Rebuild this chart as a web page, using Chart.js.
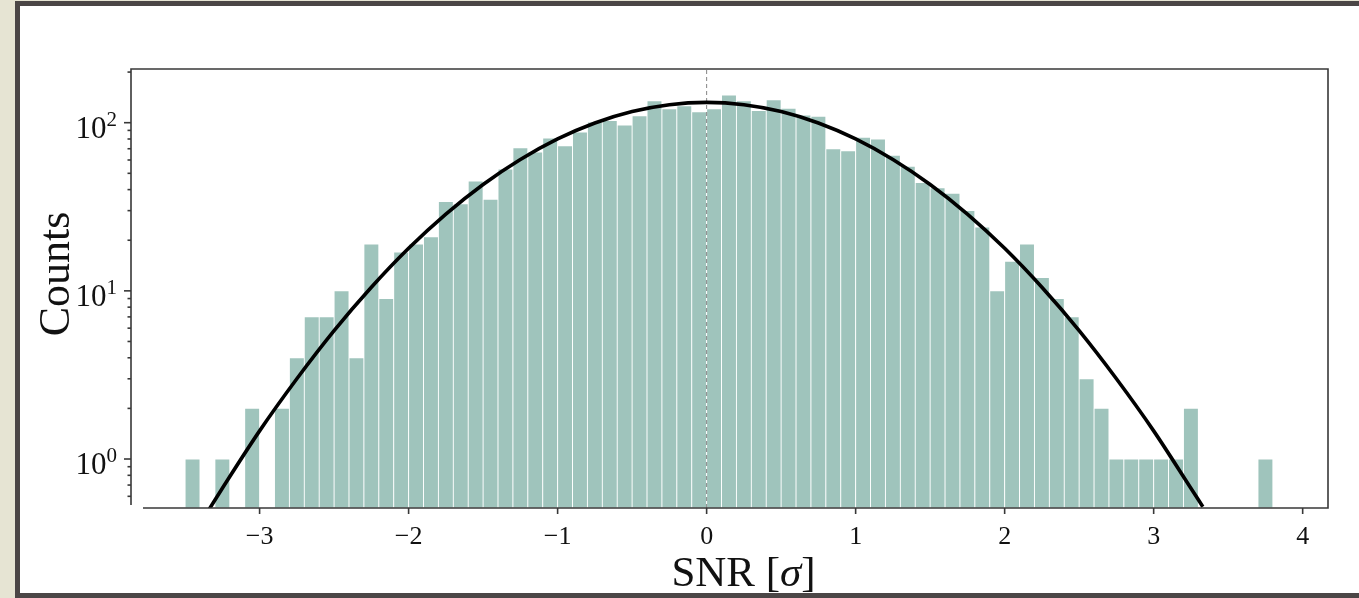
<!DOCTYPE html>
<html>
<head>
<meta charset="utf-8">
<script src="https://cdn.jsdelivr.net/npm/chart.js@4.4.1/dist/chart.umd.min.js"></script>
<style>
  html, body { margin: 0; padding: 0; width: 1359px; height: 598px; overflow: hidden; background: #e6e4d3; }
  #frame { position: absolute; left: 15px; top: 1px; width: 1400px; height: 587px;
           border: 5px solid #4b4646; border-right: none; background: #ffffff; }
  #wrap { position: absolute; left: 0; top: 0; width: 1359px; height: 598px; }
</style>
</head>
<body>
<div id="frame"></div>
<div id="wrap"><canvas id="c" width="1359" height="598"></canvas></div>
<script>
// Histogram bins (width 0.1 sigma), given by their centres
const binCenters = [
  -3.45, -3.35, -3.25, -3.15, -3.05, -2.95, -2.85, -2.75, -2.65, -2.55,
  -2.45, -2.35, -2.25, -2.15, -2.05, -1.95, -1.85, -1.75, -1.65, -1.55,
  -1.45, -1.35, -1.25, -1.15, -1.05, -0.95, -0.85, -0.75, -0.65, -0.55,
  -0.45, -0.35, -0.25, -0.15, -0.05, 0.05, 0.15, 0.25, 0.35, 0.45,
  0.55, 0.65, 0.75, 0.85, 0.95, 1.05, 1.15, 1.25, 1.35, 1.45,
  1.55, 1.65, 1.75, 1.85, 1.95, 2.05, 2.15, 2.25, 2.35, 2.45,
  2.55, 2.65, 2.75, 2.85, 2.95, 3.05, 3.15, 3.25, 3.35, 3.45,
  3.55, 3.65, 3.75
];

// Number of pixels in each SNR bin
const binCounts = [
  1, 0, 1, 0, 2, 0, 2, 4, 7, 7,
  10, 4, 19, 9, 17, 19, 21, 34, 33, 45,
  35, 53, 71, 67, 81, 73, 88, 101, 103, 97,
  110, 135, 121, 126, 116, 121, 146, 135, 118, 137,
  122, 111, 109, 70, 68, 82, 80, 64, 55, 44,
  41, 38, 30, 24, 10, 15, 19, 12, 9, 7,
  3, 2, 1, 1, 1, 1, 1, 2, 0, 0,
  0, 0, 1
];

// Fitted normal curve, sampled along SNR
const fitSnr = [
  -3.34, -3.25, -3.0, -2.75, -2.5, -2.25, -2.0, -1.75, -1.5, -1.25,
  -1.0, -0.75, -0.5, -0.25, 0, 0.25, 0.5, 0.75, 1.0, 1.25,
  1.5, 1.75, 2.0, 2.25, 2.5, 2.75, 3.0, 3.25, 3.33
];
const fitCounts = [
  0.50, 0.67, 1.47, 3.0, 5.8, 10.5, 17.9, 28.6, 42.9, 60.4,
  80.1, 99.6, 116.5, 127.9, 132.0, 127.9, 116.5, 99.6, 80.1, 60.4,
  42.9, 28.6, 17.9, 10.5, 5.8, 3.0, 1.47, 0.67, 0.52
];

// Axis ticks
const xTicks = [-3, -2, -1, 0, 1, 2, 3, 4];
const yMajorTicks = [1, 10, 100];
const yMinorTicks = [0.6, 0.7, 0.8, 0.9, 2, 3, 4, 5, 6, 7, 8, 9,
                     20, 30, 40, 50, 60, 70, 80, 90, 200];
const zeroLineX = [0, 0];

const X_MIN = -3.863, X_MAX = 4.170;
const Y_MIN = 0.5113, Y_MAX = 208.6;

const SERIF = '"Liberation Serif", "Times New Roman", serif';
const AXIS_COLOR = '#383838';

// Draws the frame spines, tick marks, tick labels and axis titles
const axesDecor = {
  id: 'axesDecor',
  afterDraw(chart) {
    const { ctx, chartArea: a, scales: { x, y } } = chart;
    ctx.save();
    ctx.strokeStyle = AXIS_COLOR;
    ctx.lineWidth = 1.6;
    ctx.lineCap = 'butt';

    // spines
    ctx.beginPath();
    ctx.moveTo(a.left, a.bottom - 3); ctx.lineTo(a.left, a.top);
    ctx.lineTo(a.right, a.top); ctx.lineTo(a.right, a.bottom);
    ctx.moveTo(a.left + 12, a.bottom); ctx.lineTo(a.right + 0.8, a.bottom);
    ctx.stroke();

    // x ticks and labels
    ctx.fillStyle = '#111';
    ctx.font = '26px ' + SERIF;
    ctx.textAlign = 'center';
    ctx.textBaseline = 'alphabetic';
    xTicks.forEach(v => {
      const px = x.getPixelForValue(v);
      ctx.beginPath();
      ctx.moveTo(px, a.bottom); ctx.lineTo(px, a.bottom + 6);
      ctx.stroke();
      const txt = v < 0 ? '\u2212' + Math.abs(v) : String(v);
      ctx.fillText(txt, px, a.bottom + 36);
    });

    // y ticks
    yMinorTicks.forEach(v => {
      const py = y.getPixelForValue(v);
      ctx.beginPath();
      ctx.moveTo(a.left - 3.5, py); ctx.lineTo(a.left, py);
      ctx.stroke();
    });
    yMajorTicks.forEach(v => {
      const py = y.getPixelForValue(v);
      ctx.beginPath();
      ctx.moveTo(a.left - 7, py); ctx.lineTo(a.left, py);
      ctx.stroke();
      const exp = String(Math.round(Math.log10(v)));
      ctx.font = '31px ' + SERIF;
      const wBase = ctx.measureText('10').width;
      ctx.font = '21px ' + SERIF;
      const wExp = ctx.measureText(exp).width;
      const right = a.left - 14;
      ctx.textAlign = 'left';
      ctx.font = '31px ' + SERIF;
      ctx.fillText('10', right - wExp - wBase, py + 15);
      ctx.font = '21px ' + SERIF;
      ctx.fillText(exp, right - wExp, py + 3);
    });

    // x title: SNR [σ]
    const size = 43;
    const partA = 'SNR [', partB = '\u03c3', partC = ']';
    ctx.font = size + 'px ' + SERIF;
    const wA = ctx.measureText(partA).width;
    const wC = ctx.measureText(partC).width;
    ctx.font = 'italic ' + size + 'px ' + SERIF;
    const wB = ctx.measureText(partB).width;
    const sx = 743.5 - (wA + wB + wC) / 2;
    const by = 586;
    ctx.textAlign = 'left';
    ctx.font = size + 'px ' + SERIF;
    ctx.fillText(partA, sx, by);
    ctx.font = 'italic ' + size + 'px ' + SERIF;
    ctx.fillText(partB, sx + wA, by);
    ctx.font = size + 'px ' + SERIF;
    ctx.fillText(partC, sx + wA + wB, by);

    // y title
    ctx.translate(69, 274);
    ctx.rotate(-Math.PI / 2);
    ctx.textAlign = 'center';
    ctx.font = '44px ' + SERIF;
    ctx.fillText('Counts', 0, 0);
    ctx.restore();
  }
};

new Chart(document.getElementById('c'), {
  type: 'bar',
  data: {
    datasets: [
      {
        type: 'line',
        data: fitSnr.map((v, i) => ({ x: v, y: fitCounts[i] })),
        borderColor: '#000000',
        borderWidth: 3.6,
        pointRadius: 0,
        cubicInterpolationMode: 'monotone',
        order: 1
      },
      {
        type: 'line',
        data: zeroLineX.map((v, i) => ({ x: v, y: i === 0 ? Y_MIN : Y_MAX })),
        borderColor: 'rgba(120,120,120,0.9)',
        borderWidth: 1,
        borderDash: [4, 3],
        pointRadius: 0,
        order: 2
      },
      {
        type: 'bar',
        data: binCenters.map((v, i) => ({ x: v, y: binCounts[i] })),
        backgroundColor: '#9fc4bc',
        borderColor: '#ffffff',
        borderWidth: 0.8,
        borderSkipped: false,
        barPercentage: 1,
        categoryPercentage: 1,
        order: 3
      }
    ]
  },
  options: {
    responsive: false,
    animation: false,
    events: [],
    layout: { padding: { left: 131, right: 31, top: 69, bottom: 90 } },
    plugins: { legend: { display: false }, tooltip: { enabled: false } },
    scales: {
      x: { type: 'linear', min: X_MIN, max: X_MAX, offset: false, display: false },
      y: { type: 'logarithmic', min: Y_MIN, max: Y_MAX, display: false }
    }
  },
  plugins: [axesDecor]
});
</script>
</body>
</html>
